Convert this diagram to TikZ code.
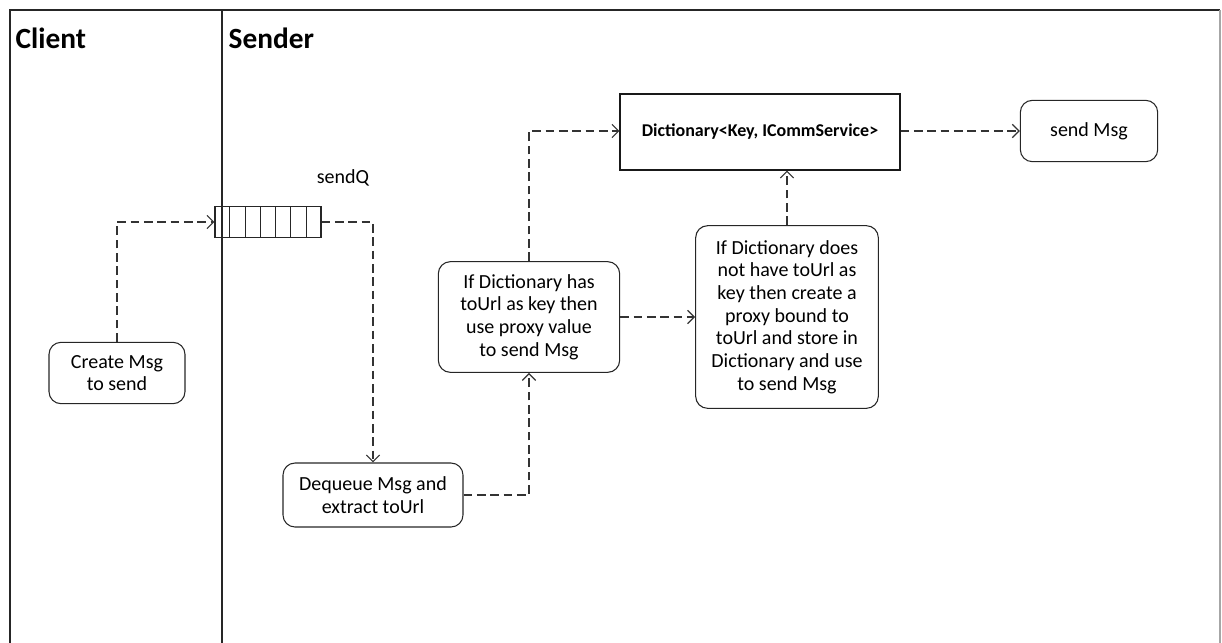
\documentclass[tikz,border=0pt]{standalone}
\usepackage{fontspec}
\setmainfont{Carlito}
\usepackage{tikz}
\usetikzlibrary{arrows.meta,positioning,calc}

\begin{document}
\begin{tikzpicture}[x=0.75pt, y=-0.75pt,
    lane/.style={font=\fontsize{22}{26}\selectfont\bfseries, anchor=west},
    state/.style={draw=black!85, rounded corners=9pt, line width=0.8pt, align=center, font=\fontsize{15}{17}\selectfont},
    flow/.style={draw=black!80, line width=0.9pt, dash pattern=on 6.5pt off 3.5pt, -{Straight Barb[length=5pt, width=10pt]}}]
    \useasboundingbox (0,0) rectangle (1222,643);

    % Lanes
    \draw[black!85, line width=0.8pt] (10,643) -- (10,10) -- (1220,10);
    \draw[black!35, line width=0.8pt] (1220,10) -- (1220,643);
    \draw[black!85, line width=0.8pt] (222,10) -- (222,643);
    \node[lane] (client) at (11,38) {Client};
    \node[lane] (sender) at (224,38) {Sender};

    % Steps
    \node[state, minimum width=102pt, minimum height=46pt] (create) at (117,373) {Create Msg\\to send};
    \node[draw=black!85, line width=0.8pt, minimum width=79.5pt, minimum height=23pt, inner sep=0pt] (sendq) at (268,222) {};
    \foreach \i in {1,...,6}
        \draw[black!85, line width=0.8pt] ($(sendq.north west)!\i/7!(sendq.north east)$) -- ($(sendq.south west)!\i/7!(sendq.south east)$);
    \node[font=\fontsize{15}{17}\selectfont] (qname) at (343,178) {sendQ};
    \node[state, minimum width=135pt, minimum height=48pt] (dequeue) at (373,495) {Dequeue Msg and\\extract toUrl};
    \node[state, minimum width=136pt, minimum height=83pt] (hasurl) at (529,317) {If Dictionary has\\toUrl as key then\\use proxy value\\to send Msg};
    \node[state, minimum width=137pt, minimum height=137pt] (nourl) at (787,317) {If Dictionary does\\not have toUrl as\\key then create a\\proxy bound to\\toUrl and store in\\Dictionary and use\\to send Msg};
    \node[draw=black!90, line width=0.8pt, minimum width=210pt, minimum height=57pt, font=\fontsize{13.5}{16}\selectfont\bfseries] (dict) at (760,132) {Dictionary<Key, ICommService>};
    \node[state, minimum width=103pt, minimum height=46pt] (sendmsg) at (1089,131) {send Msg};

    % Flow
    \draw[flow] (create.north) |- (sendq.west);
    \draw[flow] (sendq.east) -| (dequeue.north);
    \draw[flow] (dequeue.east) -| (hasurl.south);
    \draw[flow] (hasurl.north) |- (dict.west |- sendmsg.west);
    \draw[flow] (hasurl.east) -- (nourl.west);
    \draw[flow] (nourl.north) -- (nourl.north |- dict.south);
    \draw[flow] (dict.east |- sendmsg.west) -- (sendmsg.west);
\end{tikzpicture}
\end{document}
